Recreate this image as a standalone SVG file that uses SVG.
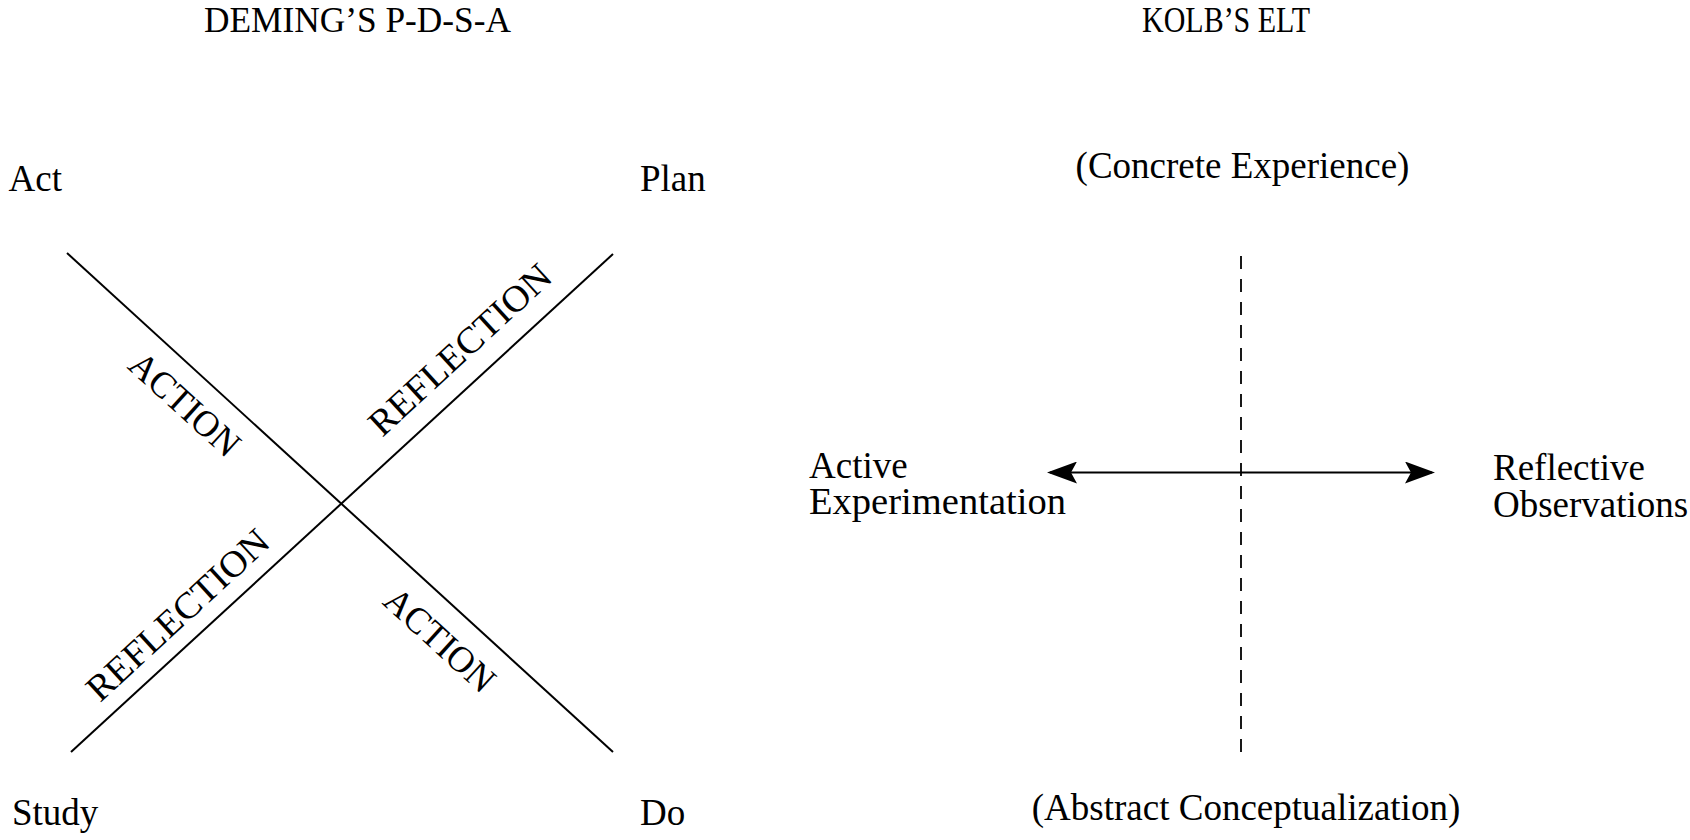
<svg xmlns="http://www.w3.org/2000/svg" width="1690" height="840" viewBox="0 0 1690 840">
  <style>
    text { font-family: "Liberation Serif", "Times New Roman", serif; fill: #000; }
    .t { font-size: 37px; }
    .h { font-size: 35px; }
    .ln { stroke: #000; stroke-width: 2; fill: none; }
    .dash { stroke: #000; stroke-width: 1.8; stroke-dasharray: 13 10; fill: none; }
  </style>
  <defs>
    <marker id="ah" markerUnits="userSpaceOnUse" viewBox="0 0 30 22" markerWidth="30" markerHeight="22" refX="27" refY="11" orient="auto-start-reverse">
      <path d="M0,0 L30,11 L0,22 L6,11 Z" fill="#000"/>
    </marker>
  </defs>
  <rect width="1690" height="840" fill="#fff"/>

  <g id="connectors">
    <line class="ln" x1="67" y1="253" x2="613" y2="752"/>
    <line class="ln" x1="71" y1="752" x2="613" y2="254"/>
    <line class="dash" x1="1241" y1="256" x2="1241" y2="760"/>
    <line class="ln" x1="1050" y1="472.5" x2="1432" y2="472.5" marker-start="url(#ah)" marker-end="url(#ah)"/>
  </g>

  <g id="deming-title"><text class="h" x="357.5" y="32" text-anchor="middle" textLength="307" lengthAdjust="spacingAndGlyphs">DEMING’S  P-D-S-A</text></g>
  <g id="kolb-title"><text class="h" x="1226" y="32" text-anchor="middle" textLength="168" lengthAdjust="spacingAndGlyphs">KOLB’S ELT</text></g>

  <g id="node-act"><text class="t" x="8.5" y="191">Act</text></g>
  <g id="node-plan"><text class="t" x="640" y="191">Plan</text></g>
  <g id="node-study"><text class="t" x="12" y="825">Study</text></g>
  <g id="node-do"><text class="t" x="640" y="825">Do</text></g>

  <g id="label-action-1"><text class="t" transform="translate(176.5,413.3) rotate(42.4)" text-anchor="middle" textLength="136" lengthAdjust="spacingAndGlyphs">ACTION</text></g>
  <g id="label-action-2"><text class="t" transform="translate(431.5,649) rotate(42.4)" text-anchor="middle" textLength="136" lengthAdjust="spacingAndGlyphs">ACTION</text></g>
  <g id="label-reflection-1"><text class="t" transform="translate(468.3,358.7) rotate(-42.6)" text-anchor="middle" textLength="234" lengthAdjust="spacingAndGlyphs">REFLECTION</text></g>
  <g id="label-reflection-2"><text class="t" transform="translate(186,624) rotate(-42.6)" text-anchor="middle" textLength="234" lengthAdjust="spacingAndGlyphs">REFLECTION</text></g>

  <g id="node-concrete"><text class="t" x="1242.5" y="178" text-anchor="middle">(Concrete  Experience)</text></g>
  <g id="node-abstract"><text class="t" x="1246" y="820" text-anchor="middle">(Abstract  Conceptualization)</text></g>
  <g id="node-active"><text class="t" x="809" y="478">Active</text><text class="t" x="809" y="514" textLength="257" lengthAdjust="spacingAndGlyphs">Experimentation</text></g>
  <g id="node-reflective"><text class="t" x="1493" y="480">Reflective</text><text class="t" x="1493" y="516.5">Observations</text></g>
</svg>
